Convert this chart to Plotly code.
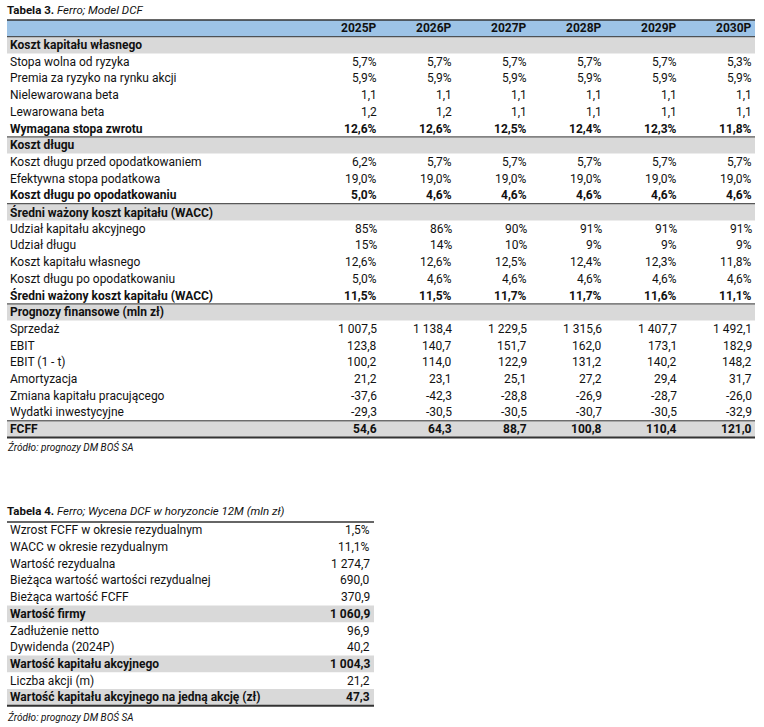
import plotly.graph_objects as go

# Tabela 3 data
years = ["2025P", "2026P", "2027P", "2028P", "2029P", "2030P"]

t3_labels = [
    "Koszt kapitału własnego",
    "Stopa wolna od ryzyka",
    "Premia za ryzyko na rynku akcji",
    "Nielewarowana beta",
    "Lewarowana beta",
    "Wymagana stopa zwrotu",
    "Koszt długu",
    "Koszt długu przed opodatkowaniem",
    "Efektywna stopa podatkowa",
    "Koszt długu po opodatkowaniu",
    "Średni ważony koszt kapitału (WACC)",
    "Udział kapitału akcyjnego",
    "Udział długu",
    "Koszt kapitału własnego",
    "Koszt długu po opodatkowaniu",
    "Średni ważony koszt kapitału (WACC)",
    "Prognozy finansowe (mln zł)",
    "Sprzedaż",
    "EBIT",
    "EBIT (1 - t)",
    "Amortyzacja",
    "Zmiana kapitału pracującego",
    "Wydatki inwestycyjne",
    "FCFF",
]
# kind: sec = grey section header, row = plain, bold = bold total, total = grey bold total
t3_kinds = ["sec", "row", "row", "row", "row", "bold", "sec", "row", "row", "bold",
            "sec", "row", "row", "row", "row", "bold", "sec", "row", "row", "row",
            "row", "row", "row", "total"]
# (decimals, percent)
t3_fmt = [None, (1, True), (1, True), (1, False), (1, False), (1, True), None, (1, True),
          (1, True), (1, True), None, (0, True), (0, True), (1, True), (1, True), (1, True),
          None, (1, False), (1, False), (1, False), (1, False), (1, False), (1, False), (1, False)]
t3_values = [
    None,
    [5.7, 5.7, 5.7, 5.7, 5.7, 5.3],
    [5.9, 5.9, 5.9, 5.9, 5.9, 5.9],
    [1.1, 1.1, 1.1, 1.1, 1.1, 1.1],
    [1.2, 1.2, 1.1, 1.1, 1.1, 1.1],
    [12.6, 12.6, 12.5, 12.4, 12.3, 11.8],
    None,
    [6.2, 5.7, 5.7, 5.7, 5.7, 5.7],
    [19.0, 19.0, 19.0, 19.0, 19.0, 19.0],
    [5.0, 4.6, 4.6, 4.6, 4.6, 4.6],
    None,
    [85, 86, 90, 91, 91, 91],
    [15, 14, 10, 9, 9, 9],
    [12.6, 12.6, 12.5, 12.4, 12.3, 11.8],
    [5.0, 4.6, 4.6, 4.6, 4.6, 4.6],
    [11.5, 11.5, 11.7, 11.7, 11.6, 11.1],
    None,
    [1007.5, 1138.4, 1229.5, 1315.6, 1407.7, 1492.1],
    [123.8, 140.7, 151.7, 162.0, 173.1, 182.9],
    [100.2, 114.0, 122.9, 131.2, 140.2, 148.2],
    [21.2, 23.1, 25.1, 27.2, 29.4, 31.7],
    [-37.6, -42.3, -28.8, -26.9, -28.7, -26.0],
    [-29.3, -30.5, -30.5, -30.7, -30.5, -32.9],
    [54.6, 64.3, 88.7, 100.8, 110.4, 121.0],
]

# Tabela 4 data
t4_labels = [
    "Wzrost FCFF w okresie rezydualnym",
    "WACC w okresie rezydualnym",
    "Wartość rezydualna",
    "Bieżąca wartość wartości rezydualnej",
    "Bieżąca wartość FCFF",
    "Wartość firmy",
    "Zadłużenie netto",
    "Dywidenda (2024P)",
    "Wartość kapitału akcyjnego",
    "Liczba akcji (m)",
    "Wartość kapitału akcyjnego na jedną akcję (zł)",
]
t4_values = [1.5, 11.1, 1274.7, 690.0, 370.9, 1060.9, 96.9, 40.2, 1004.3, 21.2, 47.3]
t4_pct = [True, True, False, False, False, False, False, False, False, False, False]
t4_kinds = ["row", "row", "row", "row", "row", "total", "row", "row", "total", "row", "total"]

FONT = "Roboto, Liberation Sans, Arial"
FS = 12
BLUE = "#9dc3e6"
GREY = "#d9d9d9"
LINE = "#333333"
W, H = 764, 727


def fmt_num(v, dec, pct):
    s = f"{abs(v):,.{dec}f}".replace(",", " ").replace(".", ",")
    if v < 0:
        s = "-" + s
    return s + ("%" if pct else "")


fig = go.Figure()
shapes = []
ann = []


def text(x, y, s, anchor="left", bold=False, italic=False, size=FS):
    if bold:
        s = f"<b>{s}</b>"
    if italic:
        s = f"<i>{s}</i>"
    ann.append(dict(x=x, y=y, xref="x", yref="y", text=s, showarrow=False,
                    xanchor=anchor, yanchor="middle", font=dict(family=FONT, size=size, color="#111")))


def band(x0, x1, y0, y1, color):
    shapes.append(dict(type="rect", xref="x", yref="y", x0=x0, x1=x1, y0=y0, y1=y1,
                       fillcolor=color, line=dict(width=0), layer="below"))


def hline(x0, x1, y, width=1.2):
    shapes.append(dict(type="line", xref="x", yref="y", x0=x0, x1=x1, y0=y, y1=y,
                       line=dict(color=LINE, width=width)))


# ---- Tabela 3 ----
pitch = 16.7
top3 = 20
left3, right3 = 7, 755
col_right = [378 + 75 * j for j in range(len(years))]

text(5, 10, "<b>Tabela 3.</b> <i>Ferro; Model DCF</i>", size=11.5)
band(left3, right3, top3, top3 + pitch, BLUE)
hline(left3, right3, top3, 1.5)
for j, yr in enumerate(years):
    text(col_right[j] + 1, top3 + pitch / 2, yr, anchor="right", bold=True)

for i, lab in enumerate(t3_labels):
    y0 = top3 + (i + 1) * pitch
    yc = y0 + pitch / 2
    kind = t3_kinds[i]
    if kind in ("sec", "total"):
        band(left3, right3, y0, y0 + pitch, GREY)
    if kind in ("sec", "total") or i == 0:
        hline(left3, right3, y0, 1.0)
    bold = kind != "row"
    text(8, yc, lab, bold=bold)
    if t3_values[i] is not None:
        dec, pct = t3_fmt[i]
        for j, v in enumerate(t3_values[i]):
            text(col_right[j] + 1, yc, fmt_num(v, dec, pct), anchor="right", bold=bold)
bottom3 = top3 + (len(t3_labels) + 1) * pitch
hline(left3, right3, bottom3, 2)
text(5, bottom3 + 9, "Źródło: prognozy DM BOŚ SA", italic=True, size=10)

# ---- Tabela 4 ----
top4 = 522
left4, right4 = 7, 374
text(5, top4 - 11, "<b>Tabela 4.</b> <i>Ferro; Wycena DCF w horyzoncie 12M (mln zł)</i>", size=11.5)
hline(left4, right4, top4, 1.5)
for i, lab in enumerate(t4_labels):
    y0 = top4 + i * pitch
    yc = y0 + pitch / 2
    bold = t4_kinds[i] == "total"
    if bold:
        band(left4, right4, y0, y0 + pitch, GREY)
    text(8, yc, lab, bold=bold)
    text(right4 - 2, yc, fmt_num(t4_values[i], 1, t4_pct[i]), anchor="right", bold=bold)
bottom4 = top4 + len(t4_labels) * pitch
hline(left4, right4, bottom4, 2)
text(5, bottom4 + 11, "Źródło: prognozy DM BOŚ SA", italic=True, size=10)

# invisible trace so the axes exist
fig.add_trace(go.Scatter(x=[0, W], y=[0, H], mode="markers", marker=dict(opacity=0),
                         hoverinfo="skip", showlegend=False))
fig.update_layout(
    width=W, height=H, margin=dict(l=0, r=0, t=0, b=0),
    paper_bgcolor="white", plot_bgcolor="white",
    shapes=shapes, annotations=ann, showlegend=False,
)
fig.update_xaxes(range=[0, W], visible=False, fixedrange=True)
fig.update_yaxes(range=[H, 0], visible=False, fixedrange=True)
# drop the default 8px body margin so the figure sits at the page origin
fig.write_html("out.html", config={"displayModeBar": False},
               post_script="document.body.style.margin='0';document.body.style.overflow='hidden';")
